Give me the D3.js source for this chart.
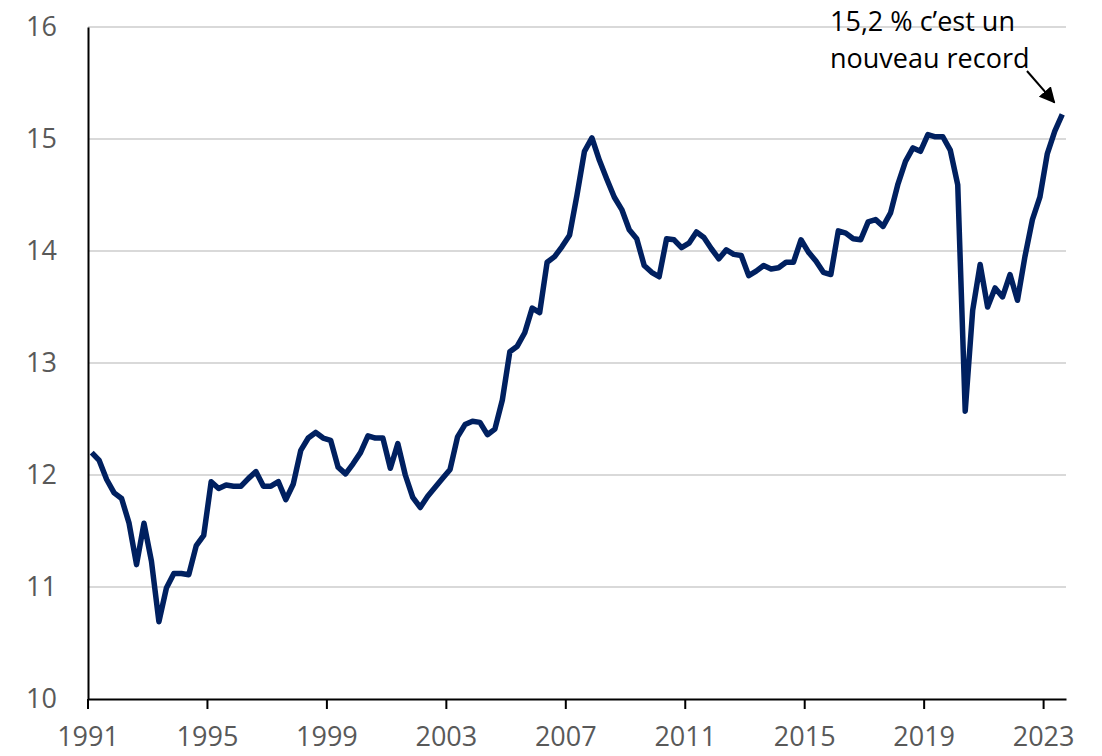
<!DOCTYPE html>
<html>
<head>
<meta charset="utf-8">
<script src="https://cdn.jsdelivr.net/npm/d3@7"></script>
<style>
  body { margin: 0; background: #fff; }
  text { font-family: "Open Sans", sans-serif; }
</style>
</head>
<body>
<div id="container"></div>
<script>
// taux trimestriel, 1991T1 -> 2023T3
var values = [
  12.20, 12.13, 11.96, 11.84, 11.79, 11.57, 11.20, 11.57, 11.23, 10.69,
  10.99, 11.12, 11.12, 11.11, 11.37, 11.46, 11.94, 11.88, 11.91, 11.90,
  11.90, 11.97, 12.03, 11.90, 11.90, 11.94, 11.78, 11.92, 12.22, 12.33,
  12.38, 12.33, 12.31, 12.07, 12.01, 12.10, 12.20, 12.35, 12.33, 12.33,
  12.06, 12.28, 12.00, 11.80, 11.71, 11.81, 11.89, 11.97, 12.05, 12.34,
  12.45, 12.48, 12.47, 12.36, 12.41, 12.67, 13.10, 13.15, 13.27, 13.49,
  13.45, 13.90, 13.95, 14.04, 14.14, 14.50, 14.89, 15.01, 14.81, 14.64,
  14.48, 14.37, 14.19, 14.11, 13.87, 13.81, 13.77, 14.11, 14.10, 14.03,
  14.07, 14.17, 14.12, 14.02, 13.93, 14.01, 13.97, 13.96, 13.78, 13.82,
  13.87, 13.84, 13.85, 13.90, 13.90, 14.10, 13.99, 13.91, 13.81, 13.79,
  14.18, 14.16, 14.11, 14.10, 14.26, 14.28, 14.22, 14.34, 14.60, 14.80,
  14.92, 14.89, 15.04, 15.02, 15.02, 14.90, 14.59, 12.57, 13.47, 13.88,
  13.50, 13.67, 13.59, 13.79, 13.56, 13.95, 14.28, 14.48, 14.87, 15.07,
  15.22
];
var quarters = values.map(function(d, i) {
  return (1991 + Math.floor(i / 4)) + 'T' + (i % 4 + 1);
});
var yearTicks = ['1991', '1995', '1999', '2003', '2007', '2011', '2015', '2019', '2023'];
var yTicks = [10, 11, 12, 13, 14, 15, 16];
var note = ['15,2 % c\u2019est un', 'nouveau record'];

var width = 1102, height = 756;
var plotLeft = 88, plotRight = 1066, plotTop = 27, plotBottom = 699;

var svg = d3.select('#container').append('svg')
  .attr('width', width)
  .attr('height', height);

var x = d3.scaleBand().domain(quarters).range([plotLeft, plotRight]).padding(0);
var y = d3.scaleLinear().domain([10, 16]).range([plotBottom, plotTop]);

// gridlines
svg.append('g')
  .selectAll('line')
  .data(yTicks.slice(1))
  .join('line')
  .attr('x1', plotLeft).attr('x2', plotRight)
  .attr('y1', function(d) { return y(d); })
  .attr('y2', function(d) { return y(d); })
  .attr('stroke', '#d9d9d9')
  .attr('stroke-width', 2);

// y axis
var yAxis = svg.append('g')
  .attr('transform', 'translate(' + plotLeft + ',0)')
  .call(d3.axisLeft(y).tickValues(yTicks).tickSize(0).tickSizeOuter(0).tickPadding(31).tickFormat(d3.format('d')));
yAxis.select('.domain').attr('stroke', '#000').attr('stroke-width', 2);
yAxis.selectAll('text')
  .attr('font-size', 27)
  .attr('fill', '#595959')
  .attr('font-family', '"Open Sans", sans-serif');

// x axis: ticks on the band edges, one every 4 years
var tickQuarters = yearTicks.map(function(yr) { return yr + 'T1'; });
var xAxis = svg.append('g')
  .attr('transform', 'translate(0,' + plotBottom + ')')
  .call(d3.axisBottom(x)
    .tickValues(tickQuarters)
    .tickSize(10)
    .tickSizeOuter(0)
    .tickPadding(18)
    .tickFormat(function(d) { return d.slice(0, 4); }));
xAxis.selectAll('.tick')
  .attr('transform', function(d) { return 'translate(' + x(d) + ',0)'; });
xAxis.select('.domain').attr('stroke', '#000').attr('stroke-width', 2);
xAxis.selectAll('.tick line').attr('stroke', '#000').attr('stroke-width', 2);
xAxis.selectAll('text')
  .attr('font-size', 27)
  .attr('fill', '#595959')
  .attr('font-family', '"Open Sans", sans-serif');

// the series
var line = d3.line()
  .x(function(d, i) { return x(quarters[i]) + x.bandwidth() / 2; })
  .y(function(d) { return y(d); });

svg.append('path')
  .datum(values)
  .attr('d', line)
  .attr('fill', 'none')
  .attr('stroke', '#002060')
  .attr('stroke-width', 5.5)
  .attr('stroke-linejoin', 'round');

// annotation
svg.append('defs').append('marker')
  .attr('id', 'head')
  .attr('viewBox', '0 0 10 10')
  .attr('refX', 9).attr('refY', 5)
  .attr('markerWidth', 16).attr('markerHeight', 16)
  .attr('markerUnits', 'userSpaceOnUse')
  .attr('orient', 'auto')
  .append('path')
  .attr('d', 'M0,0 L10,5 L0,10 z')
  .attr('fill', '#000');

var last = values.length - 1;
var lx = x(quarters[last]) + x.bandwidth() / 2, ly = y(values[last]);

svg.append('text')
  .attr('x', 830)
  .attr('y', 31)
  .attr('font-size', 27)
  .attr('fill', '#000')
  .selectAll('tspan')
  .data(note)
  .join('tspan')
  .attr('x', 830)
  .attr('dy', function(d, i) { return i ? 37 : 0; })
  .text(function(d) { return d; });

svg.append('line')
  .attr('x1', 1027).attr('y1', 71)
  .attr('x2', lx - 8).attr('y2', ly - 12)
  .attr('stroke', '#000')
  .attr('stroke-width', 2)
  .attr('marker-end', 'url(#head)');
</script>
</body>
</html>
